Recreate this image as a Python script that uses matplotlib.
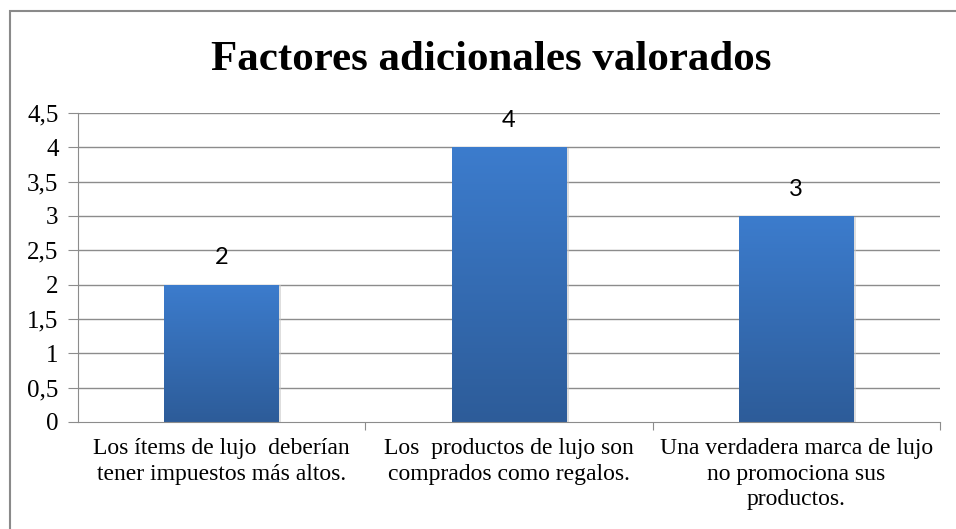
import matplotlib
matplotlib.use("Agg")
import matplotlib.pyplot as plt
import numpy as np
from matplotlib.patches import Rectangle
from matplotlib.colors import LinearSegmentedColormap

categories = ["Los ítems de lujo  deberían\ntener impuestos más altos.",
              "Los  productos de lujo son\ncomprados como regalos.",
              "Una verdadera marca de lujo\nno promociona sus\nproductos."]
values = [2, 4, 3]
yticks = [0, 0.5, 1, 1.5, 2, 2.5, 3, 3.5, 4, 4.5]
ytick_labels = ["0", "0,5", "1", "1,5", "2", "2,5", "3", "3,5", "4", "4,5"]
title = "Factores adicionales valorados"

W, H = 956, 529
fig = plt.figure(figsize=(W / 100, H / 100), dpi=100)
fig.patch.set_facecolor("white")

# outer chart border (left & top visible; right/bottom cropped)
fig.patches.append(Rectangle((10 / W, -0.1), 1.2, 1 - 11 / H + 0.1,
                             transform=fig.transFigure, fill=False,
                             edgecolor="#8a8a8a", linewidth=1.5))

ax = fig.add_axes([78 / W, 1 - 422 / H, (940 - 78) / W, (422 - 113) / H])
x = np.arange(len(categories))

grid_c = "#8c8c8c"
for y in yticks[1:]:
    ax.axhline(y, color=grid_c, linewidth=1.0, zorder=0)

bars = ax.bar(x, values, width=0.4, color="none", zorder=2)
cmap = LinearSegmentedColormap.from_list("g", ["#2d5c99", "#3c7ccd"])
grad = np.linspace(0, 1, 256).reshape(-1, 1)
for b, v in zip(bars, values):
    x0, w = b.get_x(), b.get_width()
    ax.add_patch(Rectangle((x0 + 0.008, 0), w, v - 0.01, facecolor="#c8c8c8",
                           edgecolor="none", zorder=1.5, alpha=0.6))
    im = ax.imshow(grad, cmap=cmap, origin="lower", aspect="auto",
                   extent=(x0, x0 + w, 0, v), zorder=2)
    im.set_clip_path(b)
    ax.text(b.get_x() + w / 2, v + 0.24, str(v), ha="center", va="bottom",
            fontsize=17, family="Lato", color="black")
ax.set_xlim(-0.5, len(categories) - 0.5)
ax.set_ylim(0, 4.5)

for s in ["top", "right"]:
    ax.spines[s].set_visible(False)
ax.spines["left"].set_color(grid_c)
ax.spines["bottom"].set_color(grid_c)

ax.set_yticks(yticks)
ax.set_yticklabels(ytick_labels, family="Liberation Serif", fontsize=18)
ax.tick_params(axis="y", length=7, color=grid_c, pad=7)

ax.set_xticks([0.5, 1.5, 2.5])
ax.set_xticklabels([])
ax.tick_params(axis="x", length=6, color=grid_c)
for i, c in enumerate(categories):
    ax.text(i, -0.23, c, ha="center", va="top", fontsize=17,
            family="Liberation Serif", linespacing=1.3)

fig.text(491 / W, 1 - 60 / H, title, ha="center", va="center",
         fontsize=31, fontweight="bold", family="Liberation Serif")

fig.savefig("out.png", dpi=100)
